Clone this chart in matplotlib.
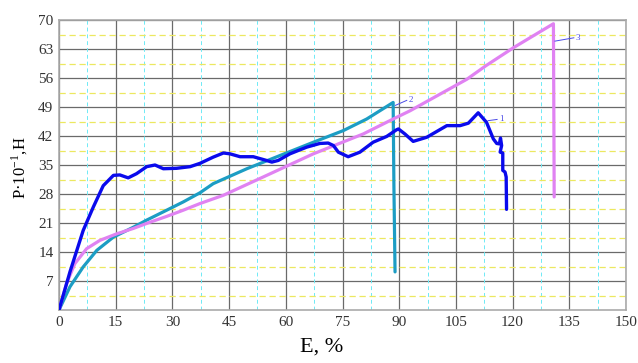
import matplotlib
matplotlib.use("Agg")
import matplotlib.pyplot as plt
from matplotlib.ticker import MultipleLocator

plt.rcParams["mathtext.fontset"] = "stix"

# Curve 1 (blue)
e1 = [0, 2.9, 6.4, 9.1, 11.7, 14.4, 16.1, 18.3, 20.5, 23.2, 25.4, 27.6, 31.1, 34.7, 37.3,
      40.8, 43.5, 45.2, 47.9, 51.4, 54.9, 56.3, 58.0, 61.1, 65.5, 69.0, 71.2, 72.6, 73.9,
      76.5, 79.6, 83.1, 86.7, 89.3, 89.8, 91.5, 93.7, 97.3, 102.6, 106.1, 108.3, 110.9,
      113.1, 114.9, 115.8, 116.5, 116.8, 117.1, 116.7, 117.4, 117.4, 118.0, 118.3, 118.4]
p1 = [0, 9.2, 19.2, 24.9, 30.0, 32.5, 32.6, 31.9, 32.9, 34.6, 35.0, 34.1, 34.2, 34.6, 35.4,
      36.9, 37.9, 37.7, 37.0, 37.0, 36.1, 35.7, 36.1, 37.7, 39.3, 40.2, 40.3, 39.7, 38.1,
      37.0, 38.1, 40.5, 41.9, 43.5, 43.7, 42.5, 40.7, 41.7, 44.5, 44.5, 45.1, 47.6,
      45.3, 41.3, 40.2, 40.1, 41.5, 39.7, 38.1, 37.9, 33.7, 33.3, 32.1, 24.3]

# Curve 2 (teal)
e2 = [0, 2.9, 6.4, 10.0, 14.4, 19.7, 23.2, 28.5, 32.9, 37.3, 40.8, 49.7, 58.5, 67.3, 75.2,
      81.4, 88.4, 88.6, 88.9]
p2 = [0, 5.6, 10.4, 14.4, 17.6, 20.0, 21.7, 24.1, 26.1, 28.3, 30.5, 34.1, 37.3, 40.5, 43.3,
      46.1, 50.1, 30.0, 9.2]

# Curve 3 (violet)
e3 = [0, 2.0, 4.2, 7.3, 10.8, 15.3, 19.7, 24.1, 28.5, 32.9, 37.3, 43.5, 54.0, 67.3, 80.5,
      88.4, 92.9, 107.9, 113.0, 120.2, 130.8, 130.9, 131.0]
p3 = [0, 6.4, 11.2, 14.8, 16.8, 18.4, 19.7, 21.2, 22.6, 24.1, 25.7, 27.7, 32.1, 37.7, 42.5,
      46.1, 48.1, 55.7, 59.0, 63.3, 69.1, 50.0, 27.3]

x_ticks = [0, 15, 30, 45, 60, 75, 90, 105, 120, 135, 150]
y_ticks = [7, 14, 21, 28, 35, 42, 49, 56, 63, 70]
curve_labels = ["1", "2", "3"]

serif = ["Liberation Serif", "DejaVu Serif"]

fig = plt.figure(figsize=(6.38, 3.63), dpi=100)
ax = fig.add_axes([59 / 638, 1 - 310 / 363, (626 - 59) / 638, (310 - 20) / 363])

ax.set_xlim(0, 150)
ax.set_ylim(0, 70)
ax.set_xticks(x_ticks)
ax.set_yticks(y_ticks)
ax.set_xticklabels([str(v) for v in x_ticks])
ax.set_yticklabels([str(v) for v in y_ticks])

# grid lines
for xv in [7.5 + 15 * k for k in range(10)]:
    ax.axvline(xv, color="#6eeaf6", lw=0.7, ls=(0, (4, 3)), zorder=1)
for yv in [3.5 + 7 * k for k in range(10)]:
    ax.axhline(yv, color="#ece860", lw=0.9, ls=(0, (5, 3)), zorder=1)
ax.grid(True, which="major", color="#6a6a6a", lw=0.9, zorder=1.5)
ax.set_axisbelow(True)

ax.tick_params(axis="both", which="both", length=0, labelsize=11, colors="#333333", pad=4)
for lab in ax.get_xticklabels() + ax.get_yticklabels():
    lab.set_fontfamily(serif)
for sp in ax.spines.values():
    sp.set_color("#aaaaaa")
    sp.set_linewidth(1.2)

ax.plot(e2, p2, color="#1c9dc4", lw=2.3, zorder=3, solid_capstyle="round")
ax.plot(e3, p3, color="#e082f2", lw=2.3, zorder=3, solid_capstyle="round")
ax.plot(e1, p1, color="#0a0aec", lw=2.4, zorder=4, solid_capstyle="round")

# curve labels with leader lines
lead = "#4a4ae6"
ax.plot([113.5, 115.9], [45.7, 46.0], color=lead, lw=0.7, zorder=5)
ax.text(116.5, 46.0, curve_labels[0], fontsize=6.5, color=lead, family=serif, va="center")
ax.plot([89.0, 92.0], [49.4, 50.6], color=lead, lw=0.7, zorder=5)
ax.text(92.5, 50.8, curve_labels[1], fontsize=6.5, color=lead, family=serif, va="center")
ax.plot([131.2, 136.2], [64.9, 65.7], color=lead, lw=0.7, zorder=5)
ax.text(136.6, 65.7, curve_labels[2], fontsize=6.5, color=lead, family=serif, va="center")

fig.text(322 / 638, 1 - 347 / 363, "E, %", fontsize=16, family=serif, ha="center", va="center")
fig.text(20 / 638, 1 - 168 / 363, r"P·10$^{\mathregular{-1}}$,H", fontsize=12, family=serif,
         rotation=90, ha="center", va="center")

fig.savefig("out.png", dpi=100)
